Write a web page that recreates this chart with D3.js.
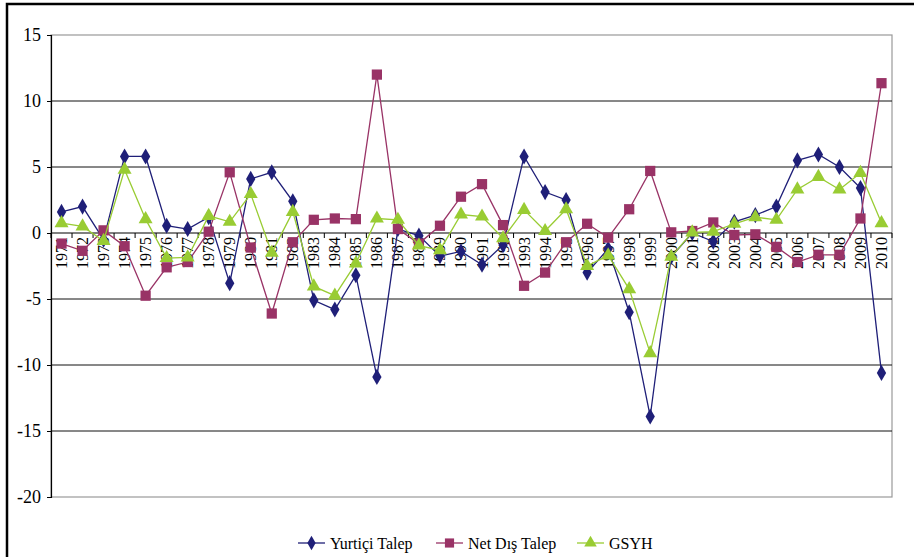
<!DOCTYPE html>
<html>
<head>
<meta charset="utf-8">
<script src="https://cdn.jsdelivr.net/npm/d3@7"></script>
<style>
body { margin: 0; background: #fff; }
svg, svg text { font-family: "Liberation Serif", "DejaVu Serif", serif !important; }
</style>
</head>
<body>
<script>
/* Data */
var years = d3.range(1971, 2011).map(String);
var yurticiTalep = [1.6, 2.0, -0.5, 5.8, 5.8, 0.55, 0.3, 1.2, -3.8, 4.1,
	4.6, 2.4, -5.1, -5.8, -3.2, -10.9, 0.3, -0.2, -1.75, -1.4,
	-2.4, -0.9, 5.8, 3.1, 2.5, -3.0, -1.2, -6.0, -13.9, -1.8,
	0.0, -0.65, 0.85, 1.35, 2.0, 5.5, 5.95, 5.0, 3.4, -10.6];
var netDisTalep = [-0.8, -1.35, 0.2, -1.0, -4.75, -2.6, -2.2, 0.1, 4.6, -1.1,
	-6.1, -0.7, 1.0, 1.1, 1.05, 12.0, 0.3, -0.8, 0.55, 2.75,
	3.7, 0.6, -4.0, -3.0, -0.7, 0.7, -0.35, 1.8, 4.7, 0.05,
	0.15, 0.8, -0.15, -0.1, -1.05, -2.2, -1.65, -1.65, 1.1, 11.35];
var gsyh = [0.75, 0.5, -0.6, 4.8, 1.05, -1.9, -1.85, 1.3, 0.85, 2.95,
	-1.5, 1.6, -4.05, -4.75, -2.3, 1.1, 1.0, -0.95, -1.3, 1.4,
	1.25, -0.4, 1.75, 0.15, 1.8, -2.5, -1.7, -4.25, -9.1, -1.8,
	0.05, 0.1, 0.7, 1.2, 1.0, 3.3, 4.25, 3.3, 4.55, 0.75];
var yTicks = [-20, -15, -10, -5, 0, 5, 10, 15];

var series = [
	{name: "Yurtiçi Talep", values: yurticiTalep, color: "#1f1f78", symbol: d3.symbolDiamond, size: 75},
	{name: "Net Dış Talep", values: netDisTalep, color: "#993366", symbol: d3.symbolSquare, size: 105},
	{name: "GSYH", values: gsyh, color: "#99cc33", symbol: d3.symbolTriangle, size: 85}
];

/* Display setup */
var width = 914, height = 557,
	plot = {left: 51, right: 892, top: 35, bottom: 497};

var svg = d3.select("body").append("svg")
	.attr("width", width)
	.attr("height", height);

// outer frame
svg.append("rect")
	.attr("x", 7).attr("y", 4)
	.attr("width", 920).attr("height", 570)
	.style("fill", "white").style("stroke", "black").style("stroke-width", 2.5);

var x = d3.scaleBand().domain(years).range([plot.left, plot.right]);
var y = d3.scaleLinear().domain([-20, 15]).range([plot.bottom, plot.top]);

// plot area border
svg.append("rect")
	.attr("x", plot.left).attr("y", plot.top)
	.attr("width", plot.right - plot.left).attr("height", plot.bottom - plot.top)
	.style("fill", "none").style("stroke", "#999").style("stroke-width", 1.2);

// gridlines
svg.append("g").selectAll("line")
	.data(yTicks.filter(function(d) { return d != 15 && d != -20 && d != 0; }))
	.enter().append("line")
		.attr("x1", plot.left).attr("x2", plot.right)
		.attr("y1", function(d) { return y(d); })
		.attr("y2", function(d) { return y(d); })
		.style("stroke", "#111").style("stroke-width", 1);

// y axis
var yAxis = svg.append("g")
	.attr("transform", "translate(" + plot.left + ",0)")
	.call(d3.axisLeft(y).tickValues(yTicks).tickSize(4).tickPadding(6)
		.tickFormat(function(d) { return String(d); }));
yAxis.attr("font-family", null);
yAxis.select(".domain").style("stroke", "#000").style("stroke-width", 1.2);
yAxis.selectAll(".tick line").style("stroke", "#000");
yAxis.selectAll("text").style("font-size", "18px").style("fill", "#000");

// x axis at zero
var xAxis = svg.append("g")
	.attr("transform", "translate(0," + y(0) + ")");
xAxis.append("line")
	.attr("x1", plot.left).attr("x2", plot.right)
	.style("stroke", "#000").style("stroke-width", 1.2);
xAxis.selectAll("line.tick")
	.data(years.concat(["end"]))
	.enter().append("line")
		.attr("class", "tick")
		.attr("x1", function(d) { return d == "end" ? plot.right : x(d); })
		.attr("x2", function(d) { return d == "end" ? plot.right : x(d); })
		.attr("y1", 0).attr("y2", 5)
		.style("stroke", "#000");
xAxis.selectAll("text")
	.data(years)
	.enter().append("text")
		.attr("transform", function(d) { return "translate(" + (x(d) + x.bandwidth() / 2 + 5.5) + ",4) rotate(-90)"; })
		.attr("text-anchor", "end")
		.style("font-size", "16px")
		.text(function(d) { return d; });

// lines and markers
var line = d3.line()
	.x(function(d, i) { return x(years[i]) + x.bandwidth() / 2; })
	.y(function(d) { return y(d); });

series.forEach(function(s) {
	var g = svg.append("g");
	g.append("path")
		.datum(s.values)
		.attr("d", line)
		.style("fill", "none")
		.style("stroke", s.color)
		.style("stroke-width", 1.3);
	g.selectAll("path.marker")
		.data(s.values)
		.enter().append("path")
			.attr("class", "marker")
			.attr("transform", function(d, i) { return "translate(" + (x(years[i]) + x.bandwidth() / 2) + "," + y(d) + ")"; })
			.attr("d", d3.symbol().type(s.symbol).size(s.size))
			.style("fill", s.color);
});

// legend
var legendX = [298, 436, 577];
var legend = svg.append("g").selectAll("g")
	.data(series)
	.enter().append("g")
		.attr("transform", function(d, i) { return "translate(" + legendX[i] + ",543)"; });
legend.append("line")
	.attr("x1", 0).attr("x2", 27)
	.style("stroke", function(d) { return d.color; })
	.style("stroke-width", 1.3);
legend.append("path")
	.attr("transform", "translate(13.5,0)")
	.attr("d", function(d) { return d3.symbol().type(d.symbol).size(d.size * 0.8)(); })
	.style("fill", function(d) { return d.color; });
legend.append("text")
	.attr("x", 32).attr("y", 6)
	.style("font-size", "16px")
	.text(function(d) { return d.name; });
</script>
</body>
</html>
